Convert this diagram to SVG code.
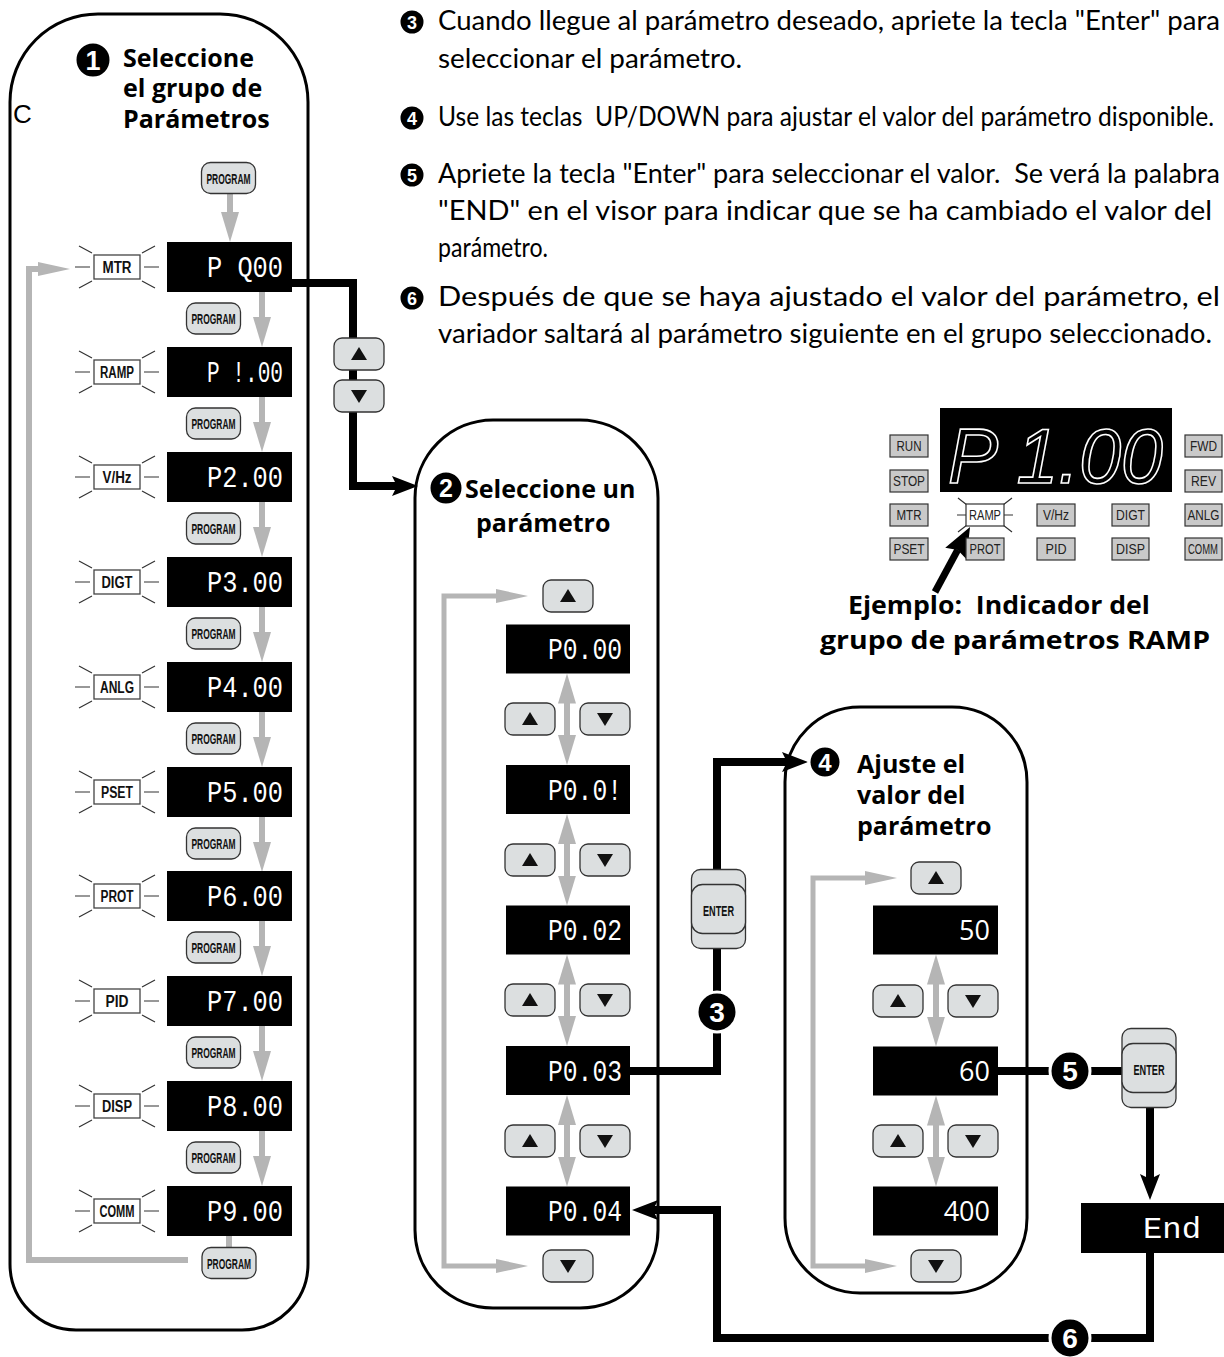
<svg xmlns="http://www.w3.org/2000/svg" width="1224" height="1357" viewBox="0 0 1224 1357">
<style>
.col{fill:none;stroke:#000;stroke-width:3}
.disp{fill:#000}
.dt{font-family:"Liberation Mono","Courier New",monospace;font-size:30px;fill:#fff;text-anchor:end}
.vt{font-family:"Open Sans","Liberation Sans",sans-serif;font-size:27px;fill:#fff;text-anchor:end}
.btn{fill:#dcdfe0;stroke:#333;stroke-width:1.3}
.ind{fill:#fff;stroke:#444;stroke-width:1.3}
.it{font-family:"Liberation Sans",Arial,sans-serif;font-weight:bold;font-size:16px;text-anchor:middle;fill:#111}
.ray{stroke:#333;stroke-width:1.2;fill:none}
.g{stroke:#b5b5b5;stroke-width:6;fill:none}
.gl{stroke:#b5b5b5;stroke-width:5;fill:none}
.k{stroke:#000;stroke-width:8;fill:none}
.sc{fill:#000;stroke:#fff;stroke-width:3}
.sn{font-family:"Liberation Sans",Arial,sans-serif;font-weight:bold;fill:#fff;text-anchor:middle}
.hd{font-family:"Open Sans","Liberation Sans",sans-serif;font-weight:bold;font-size:25px;fill:#000}
.p{font-family:Lato,"Liberation Sans",sans-serif;font-size:26px;fill:#000;white-space:pre}
.pg{font-family:"Liberation Sans",Arial,sans-serif;font-weight:bold;font-size:15px;text-anchor:middle;fill:#111}
.pb{fill:#c9c9c9;stroke:#333;stroke-width:1.2}
.pt{font-family:"Liberation Sans",Arial,sans-serif;font-size:14px;text-anchor:middle;fill:#222}
</style>
<defs>
<marker id="ga" markerUnits="userSpaceOnUse" viewBox="0 0 30 18" refX="1" refY="9" markerWidth="30" markerHeight="18" orient="auto-start-reverse"><path d="M0,0L30,9L0,18z" fill="#b5b5b5"/></marker>
<marker id="gl" markerUnits="userSpaceOnUse" viewBox="0 0 32 14" refX="1" refY="7" markerWidth="32" markerHeight="14" orient="auto-start-reverse"><path d="M0,0L32,7L0,14z" fill="#b5b5b5"/></marker>
<marker id="ka" markerUnits="userSpaceOnUse" viewBox="0 0 26 20" refX="5" refY="10" markerWidth="26" markerHeight="20" orient="auto"><path d="M0,0L26,10L0,20L5,10z" fill="#000"/></marker>
<marker id="kp" markerUnits="userSpaceOnUse" viewBox="0 0 30 24" refX="4" refY="12" markerWidth="30" markerHeight="24" orient="auto"><path d="M0,0L30,12L0,24L4,12z" fill="#000"/></marker>
<g id="up"><rect class="btn" x="-25" y="-16" width="50" height="32" rx="8"/><path d="M-8,6H8L0,-7z" fill="#111"/></g>
<g id="dn"><rect class="btn" x="-25" y="-16" width="50" height="32" rx="8"/><path d="M-8,-6H8L0,7z" fill="#111"/></g>
<g id="pgm"><rect class="btn" x="-27" y="-15.5" width="54" height="31" rx="9"/><text class="pg" x="0" y="5.5" textLength="44" lengthAdjust="spacingAndGlyphs">PROGRAM</text></g>
<g id="ent"><rect class="btn" x="-27" y="-40" width="54" height="79" rx="9"/><rect class="btn" x="-27" y="-25" width="54" height="49" rx="11"/><text class="pg" x="0" y="6" textLength="31" lengthAdjust="spacingAndGlyphs">ENTER</text></g>
<path id="rays" class="ray" d="M-42,0H-27M-38,-21L-25,-14M-38,21L-25,14M27,0H42M25,-14L38,-21M25,14L38,21"/>
</defs>

<g id="instructions">
<circle class="sc" cx="412" cy="22" r="13"/><text class="sn" x="412" y="28.5" font-size="18">3</text>
<text class="p" x="438" y="30" textLength="782" lengthAdjust="spacingAndGlyphs">Cuando llegue al parámetro deseado, apriete la tecla "Enter" para</text>
<text class="p" x="438" y="68" textLength="304" lengthAdjust="spacingAndGlyphs">seleccionar el parámetro.</text>
<circle class="sc" cx="412" cy="118" r="13"/><text class="sn" x="412" y="124.5" font-size="18">4</text>
<text class="p" x="438" y="126" font-size="24" textLength="776" lengthAdjust="spacingAndGlyphs">Use las teclas  UP/DOWN para ajustar el valor del parámetro disponible.</text>
<circle class="sc" cx="412" cy="175" r="13"/><text class="sn" x="412" y="181.5" font-size="18">5</text>
<text class="p" x="438" y="183" textLength="782" lengthAdjust="spacingAndGlyphs">Apriete la tecla "Enter" para seleccionar el valor.  Se verá la palabra</text>
<text class="p" x="438" y="220" textLength="774" lengthAdjust="spacingAndGlyphs">"END" en el visor para indicar que se ha cambiado el valor del</text>
<text class="p" x="438" y="257" textLength="110" lengthAdjust="spacingAndGlyphs">parámetro.</text>
<circle class="sc" cx="412" cy="298" r="13"/><text class="sn" x="412" y="304.5" font-size="18">6</text>
<text class="p" x="438" y="306" textLength="782" lengthAdjust="spacingAndGlyphs">Después de que se haya ajustado el valor del parámetro, el</text>
<text class="p" x="438" y="343" textLength="774" lengthAdjust="spacingAndGlyphs">variador saltará al parámetro siguiente en el grupo seleccionado.</text>
</g>

<g id="connectors">
<path class="k" d="M292,283H353V486H397" marker-end="url(#ka)"/>
<path class="k" d="M630,1071H717V762H787" marker-end="url(#ka)"/>
<path class="k" d="M998,1071H1150V1179" marker-end="url(#ka)"/>
<path class="k" d="M1150,1253V1338H717V1210H653" marker-end="url(#ka)"/>
<path class="k" style="stroke-width:7" d="M935,592L957.7,549.9" marker-end="url(#kp)"/>
<path class="g" d="M230,193V213" marker-end="url(#ga)"/>
<path class="g" d="M262,292V318" marker-end="url(#ga)"/>
<path class="g" d="M262,397V423" marker-end="url(#ga)"/>
<path class="g" d="M262,502V528" marker-end="url(#ga)"/>
<path class="g" d="M262,607V633" marker-end="url(#ga)"/>
<path class="g" d="M262,712V738" marker-end="url(#ga)"/>
<path class="g" d="M262,817V843" marker-end="url(#ga)"/>
<path class="g" d="M262,921V947" marker-end="url(#ga)"/>
<path class="g" d="M262,1026V1052" marker-end="url(#ga)"/>
<path class="g" d="M262,1131V1157" marker-end="url(#ga)"/>
<path class="g" d="M229,1236V1247"/>
<path class="g" d="M188,1260H29V269H39" marker-end="url(#gl)"/>
<path class="gl" d="M497,596H444V1266H497" marker-start="url(#gl)" marker-end="url(#gl)"/>
<path class="g" d="M567,702.5V736" marker-start="url(#ga)" marker-end="url(#ga)"/>
<path class="g" d="M567,843V876.5" marker-start="url(#ga)" marker-end="url(#ga)"/>
<path class="g" d="M567,983.5V1017" marker-start="url(#ga)" marker-end="url(#ga)"/>
<path class="g" d="M567,1124V1157.5" marker-start="url(#ga)" marker-end="url(#ga)"/>
<path class="gl" d="M866,878H813V1266H866" marker-start="url(#gl)" marker-end="url(#gl)"/>
<path class="g" d="M936,983.5V1017.5" marker-start="url(#ga)" marker-end="url(#ga)"/>
<path class="g" d="M936,1124.5V1157.5" marker-start="url(#ga)" marker-end="url(#ga)"/>
</g>

<g id="group-column">
<path class="col" d="M10,102A88,88 0 0 1 98,14H220A88,88 0 0 1 308,102V1264A66,66 0 0 1 242,1330H76A66,66 0 0 1 10,1264Z"/>
<text x="13" y="123" font-family="Liberation Sans,Arial,sans-serif" font-size="26">C</text>
<circle class="sc" cx="93" cy="60" r="18"/><text class="sn" x="93" y="70" font-size="27">1</text>
<text class="hd" x="123" y="67">Seleccione</text>
<text class="hd" x="123" y="97">el grupo de</text>
<text class="hd" x="123" y="128">Parámetros</text>
<use href="#pgm" x="228.5" y="178"/>
</g>

<g id="row-mtr"><use href="#rays" x="117" y="267"/><rect class="ind" x="94" y="255" width="46" height="24"/><text class="it" x="117" y="273" textLength="29" lengthAdjust="spacingAndGlyphs">MTR</text><rect class="disp" x="167" y="242" width="125" height="50"/><text class="dt" x="283" y="277" textLength="76" lengthAdjust="spacingAndGlyphs">P Q00</text><use href="#pgm" x="213.5" y="318.5"/></g>
<g id="row-ramp"><use href="#rays" x="117" y="372"/><rect class="ind" x="94" y="360" width="46" height="24"/><text class="it" x="117" y="378" textLength="34" lengthAdjust="spacingAndGlyphs">RAMP</text><rect class="disp" x="167" y="347" width="125" height="50"/><text class="dt" x="283" y="382" textLength="76" lengthAdjust="spacingAndGlyphs">P !.00</text><use href="#pgm" x="213.5" y="423.5"/></g>
<g id="row-vhz"><use href="#rays" x="117" y="477"/><rect class="ind" x="94" y="465" width="46" height="24"/><text class="it" x="117" y="483" textLength="29" lengthAdjust="spacingAndGlyphs">V/Hz</text><rect class="disp" x="167" y="452" width="125" height="50"/><text class="dt" x="283" y="487" textLength="76" lengthAdjust="spacingAndGlyphs">P2.00</text><use href="#pgm" x="213.5" y="528.5"/></g>
<g id="row-digt"><use href="#rays" x="117" y="582"/><rect class="ind" x="94" y="570" width="46" height="24"/><text class="it" x="117" y="588" textLength="31" lengthAdjust="spacingAndGlyphs">DIGT</text><rect class="disp" x="167" y="557" width="125" height="50"/><text class="dt" x="283" y="592" textLength="76" lengthAdjust="spacingAndGlyphs">P3.00</text><use href="#pgm" x="213.5" y="633.5"/></g>
<g id="row-anlg"><use href="#rays" x="117" y="687"/><rect class="ind" x="94" y="675" width="46" height="24"/><text class="it" x="117" y="693" textLength="34" lengthAdjust="spacingAndGlyphs">ANLG</text><rect class="disp" x="167" y="662" width="125" height="50"/><text class="dt" x="283" y="697" textLength="76" lengthAdjust="spacingAndGlyphs">P4.00</text><use href="#pgm" x="213.5" y="738.5"/></g>
<g id="row-pset"><use href="#rays" x="117" y="792"/><rect class="ind" x="94" y="780" width="46" height="24"/><text class="it" x="117" y="798" textLength="32" lengthAdjust="spacingAndGlyphs">PSET</text><rect class="disp" x="167" y="767" width="125" height="50"/><text class="dt" x="283" y="802" textLength="76" lengthAdjust="spacingAndGlyphs">P5.00</text><use href="#pgm" x="213.5" y="843.5"/></g>
<g id="row-prot"><use href="#rays" x="117" y="896"/><rect class="ind" x="94" y="884" width="46" height="24"/><text class="it" x="117" y="902" textLength="33" lengthAdjust="spacingAndGlyphs">PROT</text><rect class="disp" x="167" y="871" width="125" height="50"/><text class="dt" x="283" y="906" textLength="76" lengthAdjust="spacingAndGlyphs">P6.00</text><use href="#pgm" x="213.5" y="947.5"/></g>
<g id="row-pid"><use href="#rays" x="117" y="1001"/><rect class="ind" x="94" y="989" width="46" height="24"/><text class="it" x="117" y="1007" textLength="23" lengthAdjust="spacingAndGlyphs">PID</text><rect class="disp" x="167" y="976" width="125" height="50"/><text class="dt" x="283" y="1011" textLength="76" lengthAdjust="spacingAndGlyphs">P7.00</text><use href="#pgm" x="213.5" y="1052.5"/></g>
<g id="row-disp"><use href="#rays" x="117" y="1106"/><rect class="ind" x="94" y="1094" width="46" height="24"/><text class="it" x="117" y="1112" textLength="30" lengthAdjust="spacingAndGlyphs">DISP</text><rect class="disp" x="167" y="1081" width="125" height="50"/><text class="dt" x="283" y="1116" textLength="76" lengthAdjust="spacingAndGlyphs">P8.00</text><use href="#pgm" x="213.5" y="1157.5"/></g>
<g id="row-comm"><use href="#rays" x="117" y="1211"/><rect class="ind" x="94" y="1199" width="46" height="24"/><text class="it" x="117" y="1217" textLength="35" lengthAdjust="spacingAndGlyphs">COMM</text><rect class="disp" x="167" y="1186" width="125" height="50"/><text class="dt" x="283" y="1221" textLength="76" lengthAdjust="spacingAndGlyphs">P9.00</text><use href="#pgm" x="229" y="1263"/></g>

<g id="updown-keys"><use href="#up" x="359" y="354"/><use href="#dn" x="359" y="396"/></g>

<g id="param-column">
<rect class="col" x="415" y="420" width="243" height="888" rx="78"/>
<circle class="sc" cx="446" cy="488" r="17"/><text class="sn" x="446" y="497" font-size="25">2</text>
<text class="hd" x="465" y="498">Seleccione un</text>
<text class="hd" x="476" y="532">parámetro</text>
<use href="#up" x="568" y="596"/>
<rect class="disp" x="506" y="624.5" width="124" height="49"/><text class="dt" x="622" y="659" textLength="74" lengthAdjust="spacingAndGlyphs">P0.00</text>
<use href="#up" x="530" y="719"/><use href="#dn" x="605" y="719"/>
<rect class="disp" x="506" y="765" width="124" height="49"/><text class="dt" x="622" y="799.5" textLength="74" lengthAdjust="spacingAndGlyphs">P0.0!</text>
<use href="#up" x="530" y="860"/><use href="#dn" x="605" y="860"/>
<rect class="disp" x="506" y="905.5" width="124" height="49"/><text class="dt" x="622" y="940" textLength="74" lengthAdjust="spacingAndGlyphs">P0.02</text>
<use href="#up" x="530" y="1000"/><use href="#dn" x="605" y="1000"/>
<rect class="disp" x="506" y="1046" width="124" height="49"/><text class="dt" x="622" y="1080.5" textLength="74" lengthAdjust="spacingAndGlyphs">P0.03</text>
<use href="#up" x="530" y="1141"/><use href="#dn" x="605" y="1141"/>
<rect class="disp" x="506" y="1186.5" width="124" height="49"/><text class="dt" x="622" y="1221" textLength="74" lengthAdjust="spacingAndGlyphs">P0.04</text>
<use href="#dn" x="568" y="1266"/>
</g>

<g id="step3"><use href="#ent" x="718.5" y="909.5"/><circle class="sc" cx="717" cy="1012" r="20"/><text class="sn" x="717" y="1022" font-size="28">3</text></g>

<g id="value-column">
<rect class="col" x="785" y="707" width="242" height="586" rx="75"/>
<circle class="sc" cx="825" cy="762" r="16"/><text class="sn" x="825" y="771" font-size="24">4</text>
<text class="hd" x="857" y="773">Ajuste el</text>
<text class="hd" x="857" y="804">valor del</text>
<text class="hd" x="857" y="835">parámetro</text>
<use href="#up" x="936" y="878"/>
<rect class="disp" x="873" y="905.5" width="125" height="49"/><text class="vt" x="990" y="940">50</text>
<use href="#up" x="898" y="1001"/><use href="#dn" x="973" y="1001"/>
<rect class="disp" x="873" y="1046.5" width="125" height="49"/><text class="vt" x="990" y="1081">60</text>
<use href="#up" x="898" y="1141"/><use href="#dn" x="973" y="1141"/>
<rect class="disp" x="873" y="1186.5" width="125" height="49"/><text class="vt" x="990" y="1221">400</text>
<use href="#dn" x="936" y="1266"/>
</g>

<g id="step5"><circle class="sc" cx="1070" cy="1071" r="20"/><text class="sn" x="1070" y="1081" font-size="28">5</text><use href="#ent" x="1149" y="1068.5"/></g>
<g id="end-display"><rect class="disp" x="1081" y="1203" width="143" height="50"/><text class="dt" x="1201" y="1238" textLength="58" lengthAdjust="spacingAndGlyphs">End</text></g>
<g id="step6"><circle class="sc" cx="1070" cy="1338" r="20"/><text class="sn" x="1070" y="1348" font-size="28">6</text></g>

<g id="panel">
<rect class="disp" x="940" y="408" width="232" height="84"/>
<text x="948" y="483" font-family="Liberation Sans,Arial,sans-serif" font-style="italic" font-size="78" fill="none" stroke="#fff" stroke-width="1.6" textLength="215" lengthAdjust="spacingAndGlyphs">P 1.00</text>
<rect class="pb" x="890" y="435" width="38" height="22"/><text class="pt" x="909" y="451" textLength="25" lengthAdjust="spacingAndGlyphs">RUN</text>
<rect class="pb" x="890" y="470" width="38" height="22"/><text class="pt" x="909" y="486" textLength="32" lengthAdjust="spacingAndGlyphs">STOP</text>
<rect class="pb" x="890" y="504" width="38" height="22"/><text class="pt" x="909" y="520" textLength="25" lengthAdjust="spacingAndGlyphs">MTR</text>
<rect class="pb" x="890" y="538" width="38" height="22"/><text class="pt" x="909" y="554" textLength="31" lengthAdjust="spacingAndGlyphs">PSET</text>
<path class="ray" d="M957,515H966M958,498L967,505M958,532L967,525M1004,515H1013M1003,505L1012,498M1003,525L1012,532"/>
<rect fill="#fff" stroke="#333" stroke-width="1.2" x="966" y="504" width="38" height="22"/><text class="pt" x="985" y="520" textLength="32" lengthAdjust="spacingAndGlyphs">RAMP</text>
<rect class="pb" x="966" y="538" width="38" height="22"/><text class="pt" x="985" y="554" textLength="31" lengthAdjust="spacingAndGlyphs">PROT</text>
<rect class="pb" x="1037" y="504" width="38" height="22"/><text class="pt" x="1056" y="520" textLength="26" lengthAdjust="spacingAndGlyphs">V/Hz</text>
<rect class="pb" x="1037" y="538" width="38" height="22"/><text class="pt" x="1056" y="554" textLength="21" lengthAdjust="spacingAndGlyphs">PID</text>
<rect class="pb" x="1112" y="504" width="37" height="22"/><text class="pt" x="1130.5" y="520" textLength="29" lengthAdjust="spacingAndGlyphs">DIGT</text>
<rect class="pb" x="1112" y="538" width="37" height="22"/><text class="pt" x="1130.5" y="554" textLength="29" lengthAdjust="spacingAndGlyphs">DISP</text>
<rect class="pb" x="1185" y="435" width="37" height="22"/><text class="pt" x="1203.5" y="451" textLength="27" lengthAdjust="spacingAndGlyphs">FWD</text>
<rect class="pb" x="1185" y="470" width="37" height="22"/><text class="pt" x="1203.5" y="486" textLength="25" lengthAdjust="spacingAndGlyphs">REV</text>
<rect class="pb" x="1185" y="504" width="37" height="22"/><text class="pt" x="1203.5" y="520" textLength="32" lengthAdjust="spacingAndGlyphs">ANLG</text>
<rect class="pb" x="1185" y="538" width="37" height="22"/><text class="pt" x="1203" y="553.5" font-size="12" textLength="30" lengthAdjust="spacingAndGlyphs">COMM</text>
<text class="hd" x="848" y="614" textLength="302" lengthAdjust="spacingAndGlyphs" style="white-space:pre">Ejemplo:  Indicador del</text>
<text class="hd" x="820" y="649" textLength="390" lengthAdjust="spacingAndGlyphs">grupo de parámetros RAMP</text>
</g>
</svg>
